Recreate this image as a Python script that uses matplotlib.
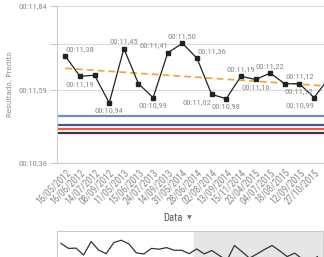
import os
import matplotlib
matplotlib.use("Agg")
import matplotlib.pyplot as plt
from matplotlib import font_manager as fm
import numpy as np

# ---------------- data ----------------
dates = ["16/05/2012", "16/06/2012", "14/07/2012", "08/09/2012", "11/05/2013",
         "15/06/2013", "24/07/2013", "14/09/2013", "31/05/2014", "28/06/2014",
         "02/08/2014", "13/09/2014", "15/11/2014", "23/04/2015", "04/07/2015",
         "18/08/2015", "12/09/2015", "27/10/2015"]

results = [11.38, 11.19, 11.20, 10.94, 11.45, 11.12, 10.99, 11.41, 11.50, 11.36,
           11.02, 10.98, 11.19, 11.16, 11.22, 11.12, 11.12, 10.99, 11.17, 10.98,
           11.11, 10.92, 10.73, 11.30, 11.07, 10.82, 10.98, 11.15, 11.30, 11.10,
           10.88, 11.01, 10.79, 10.65, 10.88]

point_labels = ["00:11,38", "00:11,19", None, "00:10,94", "00:11,45", None,
                "00:10,99", "00:11,41", "00:11,50", "00:11,36", "00:11,02",
                "00:10,98", "00:11,19", "00:11,16", "00:11,22", "00:11,12",
                "00:11,12", "00:10,99"]
label_side = ["a", "b", None, "b", "a", None, "b", "a", "a", "a", "b", "b",
              "a", "b", "a", "b", "a", "b"]
label_ha = ["left", "center", None, "center", "center", None, "center", "right",
            "center", "left", "right", "center", "center", "center", "center",
            "left", "center", "right"]

trend_x = [0, 17.68]
trend_y = [11.265, 11.100]

ref_values = [10.817, 10.736, 10.692, 10.655]
ref_colors = ["#6f8fb3", "#3c5a9a", "#e05a50", "#3a3a3a"]

ytick_vals = [11.850, 11.493, 11.061, 10.376]
ytick_labels = ["00:11,84", "", "00:11,59", "00:10,36"]

y_lim = (10.376, 11.850)
view_x = (-0.57, 17.68)


# ---------------- font choice (narrow font if available) ----------------
def pick_narrow():
    files = [f.fname for f in fm.fontManager.ttflist]
    prefs = [("liberationsansnarrow-regular", 5.8),
             ("robotocondensed-regular", 5.8),
             ("dejavusanscondensed.ttf", 4.7),
             ("opensans_condensed-regular", 5.4),
             ("opensanscondensed-regular", 5.4)]
    for key, size in prefs:
        for fn in files:
            if os.path.basename(fn).lower().replace(" ", "") == key or \
               os.path.basename(fn).lower().startswith(key):
                return fn, size
    for fn in files:
        if os.path.basename(fn).lower() == "liberationsans-regular.ttf":
            return fn, 4.9
    return None, 4.4


NARROW_FILE, NARROW_SIZE = pick_narrow()


def nfont(scale=1.0):
    s = NARROW_SIZE * scale
    if NARROW_FILE:
        return fm.FontProperties(fname=NARROW_FILE, size=s)
    return fm.FontProperties(family="DejaVu Sans", size=s)


GRAY = "#8a8a8a"
W, H = 324, 257

fig = plt.figure(figsize=(W / 100, H / 100), dpi=100)
fig.patch.set_facecolor("white")

ax = fig.add_axes([57 / W, 1 - 163 / H, (W - 57) / W, 157 / H])
x = np.arange(len(results))

ax.set_xlim(*view_x)
ax.set_ylim(*y_lim)

for v in ytick_vals:
    ax.axhline(v, color="#dcdcdc", lw=0.8, zorder=0)

for v, c in zip(ref_values, ref_colors):
    ax.axhline(v, color=c, lw=1.6, zorder=2)

ax.plot(trend_x, trend_y, color="#f0a236", lw=1.2, ls=(0, (4, 2.5)), zorder=3)
ax.plot(x, results, color="#222222", lw=0.9, marker="s", ms=2.4, zorder=4)

for i, lab in enumerate(point_labels):
    if lab is None:
        continue
    dy = 5.3 if label_side[i] == "a" else -5.3
    ax.annotate(lab, (x[i], results[i]), xytext=(0, dy),
                textcoords="offset points", ha=label_ha[i], va="center",
                fontproperties=nfont(1.05), color=GRAY, zorder=5)

ax.set_yticks(ytick_vals)
ax.set_yticklabels(ytick_labels)
for t in ax.get_yticklabels():
    t.set_fontproperties(nfont(1.05))
    t.set_color(GRAY)
ax.set_xticks(np.arange(len(dates)))
ax.set_xticklabels(dates, rotation=45, ha="right", va="top",
                   rotation_mode="anchor")
for t in ax.get_xticklabels():
    t.set_fontproperties(nfont(1.18))
    t.set_color(GRAY)
ax.tick_params(axis="y", length=5, color="#cccccc", pad=2)
ax.tick_params(axis="x", length=0, pad=3)

for s in ["top", "right"]:
    ax.spines[s].set_visible(False)
for s in ["left", "bottom"]:
    ax.spines[s].set_color("#cccccc")
    ax.spines[s].set_linewidth(0.8)

ax.set_ylabel("Resultado, Predito", fontsize=5.2, color=GRAY)
ax.yaxis.set_label_coords((13 - 57) / (W - 57), 0.5)

fig.text(183 / W, 1 - 218 / H, "Data", ha="right", va="center",
         fontproperties=nfont(1.3), color="#555555")
fig.text(187 / W, 1 - 218 / H, "\u25bc", ha="left", va="center",
         fontsize=4.5, color="#777777", family="DejaVu Sans")

# ---------------- overview mini chart ----------------
mx = fig.add_axes([57 / W, -0.05, (W - 57) / W - 0.002, 0.05 + (257 - 231) / H])
mx.set_xlim(-0.53, 34.8)
mx.set_ylim(*y_lim)
mx.axvspan(view_x[1], 40, color="#e6e6e6", zorder=0)
mx.plot(x, results, color="#333333", lw=0.9, zorder=2)
mx.set_xticks([])
mx.set_yticks([])
for s in mx.spines.values():
    s.set_color("#cccccc")
    s.set_linewidth(0.8)

fig.savefig("out.png", dpi=100)
